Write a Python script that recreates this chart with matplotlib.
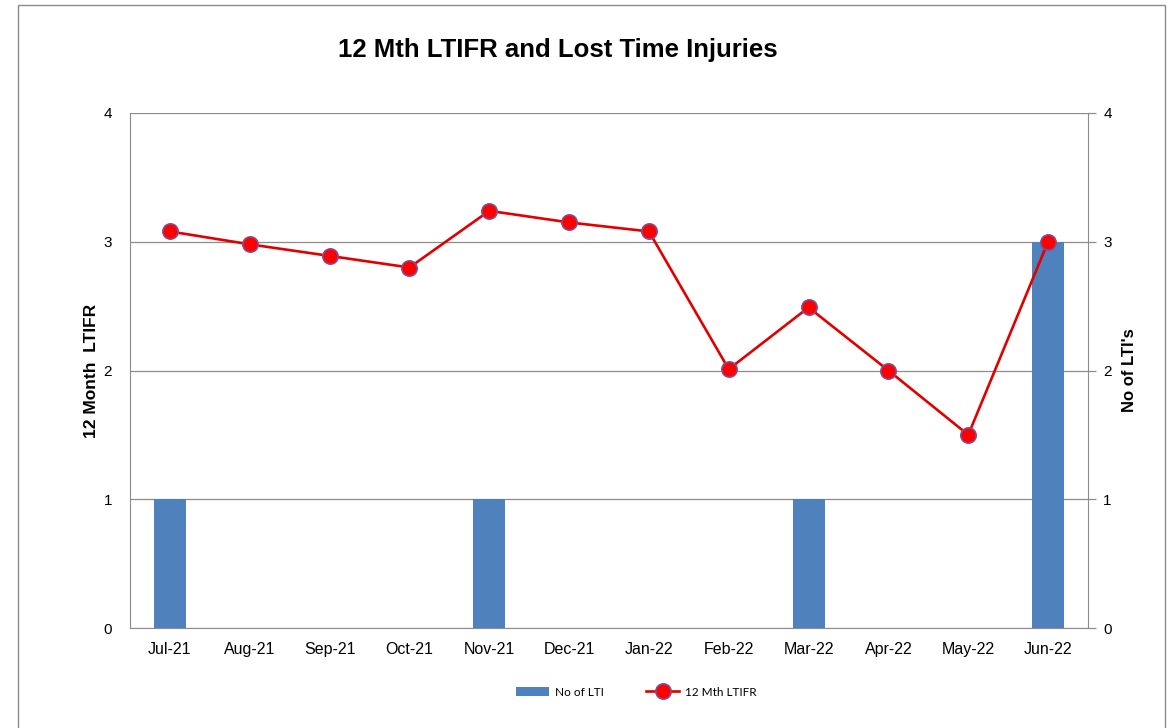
import matplotlib
matplotlib.use("Agg")
import matplotlib.pyplot as plt
from matplotlib.patches import Rectangle
import numpy as np

months = ["Jul-21", "Aug-21", "Sep-21", "Oct-21", "Nov-21", "Dec-21",
          "Jan-22", "Feb-22", "Mar-22", "Apr-22", "May-22", "Jun-22"]
lti_counts = [1, 0, 0, 0, 1, 0, 0, 0, 1, 0, 0, 3]
ltifr_12m = [3.08, 2.98, 2.89, 2.80, 3.24, 3.15, 3.08, 2.01, 2.49, 2.00, 1.50, 3.00]
yticks = [0, 1, 2, 3, 4]

plt.rcParams['font.family'] = ['Liberation Sans', 'DejaVu Sans']

W, H = 1168, 728
fig = plt.figure(figsize=(W / 100, H / 100), dpi=100)
fig.patch.set_facecolor("white")

# outer chart border
fig.patches.append(Rectangle((18 / W, -0.05), (1165 - 18) / W, 1.05 - 5 / H,
                             transform=fig.transFigure, fill=False,
                             edgecolor="#8c8c8c", linewidth=1.0))

ax = fig.add_axes([130 / W, 1 - 628 / H, (1088 - 130) / W, (628 - 113) / H])
x = np.arange(len(months))

bars = ax.bar(x, lti_counts, width=0.4, color="#4f81bd", label="No of LTI", zorder=2)
ax.set_xlim(-0.5, len(months) - 0.5)
ax.set_ylim(0, 4)
ax.set_yticks(yticks)
ax.set_yticklabels([str(v) for v in yticks], fontsize=11)
ax.yaxis.grid(True, color="#8c8c8c", linewidth=0.9, zorder=0)
ax.set_axisbelow(True)
ax.tick_params(axis="y", length=0, pad=13)
ax.set_xticks(x)
ax.set_xticklabels(months, fontsize=11.5)
ax.tick_params(axis="x", length=0, pad=10)
for s in ["left", "bottom", "right"]:
    ax.spines[s].set_color("#8c8c8c")
ax.spines["top"].set_visible(False)
ax.set_ylabel("12 Month  LTIFR", fontsize=12.5, fontweight="bold", labelpad=3)

ax2 = ax.twinx()
line, = ax2.plot(x, ltifr_12m, color="#e00000", linewidth=1.9, marker="o",
                 markersize=11, markerfacecolor="#ff0000",
                 markeredgecolor="#8a4a8a", markeredgewidth=1.2,
                 label="12 Mth LTIFR", zorder=3)
ax2.set_ylim(0, 4)
ax2.set_yticks(yticks)
ax2.set_yticklabels([str(v) for v in yticks], fontsize=11)
ax2.tick_params(axis="y", length=6, width=0.9, color="#8c8c8c", pad=5, direction="out")
for s in ["left", "bottom", "right", "top"]:
    ax2.spines[s].set_visible(False)
ax2.set_ylabel("No of LTI's", fontsize=12, fontweight="bold", labelpad=7)

fig.text(558 / W, 1 - 50 / H, "12 Mth LTIFR and Lost Time Injuries",
         ha="center", va="center", fontsize=18.5, fontweight="bold")

fig.legend([bars, line], ["No of LTI", "12 Mth LTIFR"], loc="center",
           bbox_to_anchor=(0.545, 1 - 692 / H), ncol=2, frameon=False,
           handlelength=2.8, handletextpad=0.5, columnspacing=3.6,
           prop={"family": ["Lato", "DejaVu Sans"], "size": 8.5})

fig.savefig("out.png", dpi=100, facecolor="white")
